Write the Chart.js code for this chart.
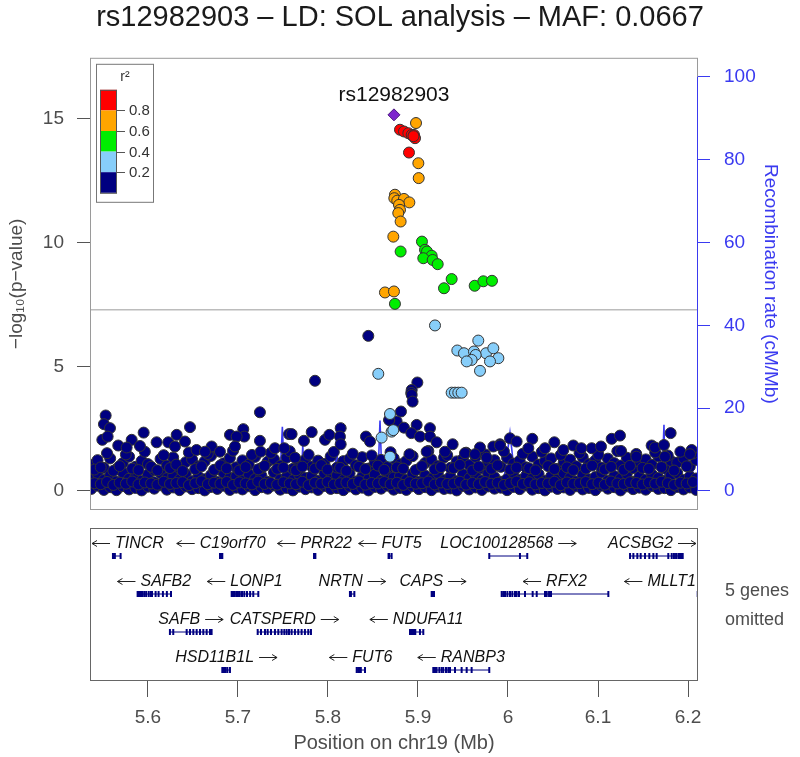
<!DOCTYPE html>
<html>
<head>
<meta charset="utf-8">
<script src="https://cdn.jsdelivr.net/npm/chart.js@4"></script>
<style>
  body { margin: 0; background: #fff; }
  #wrap { position: relative; width: 800px; height: 757px; }
  #wrap canvas { position: absolute; left: 0; top: 0; }
</style>
</head>
<body>
<div id="wrap">
  <canvas id="assoc" width="800" height="757"></canvas>
  <canvas id="genes" width="800" height="757"></canvas>
</div>
<script>
// region shown (Mb)
const xMin = 5.5356, xMax = 6.2111;
const xTicks = [5.6, 5.7, 5.8, 5.9, 6.0, 6.1, 6.2];
const pTicks = [0, 5, 10, 15];
const recTicks = [0, 20, 40, 60, 80, 100];
const gwsLine = 7.3;

// index SNP [pos, -log10 p]
const indexSnp = [5.8733, 15.16];
const indexName = 'rs12982903';

// LD classes [pos, -log10 p]
const redSnps = [[5.88,14.56],[5.8844,14.49],[5.8893,14.42],[5.893,14.35],[5.8956,14.35],[5.8967,14.22],[5.895,14.3],[5.89,13.64]];
const orangeSnps = [[5.8978,14.83],[5.9004,13.21],[5.9008,12.61],[5.8744,11.94],[5.8737,11.8],[5.877,11.7],[5.8844,11.77],
  [5.8904,11.63],[5.8789,11.53],[5.88,11.33],[5.8781,11.2],[5.8807,10.86],[5.8726,10.25],[5.8633,8.0],[5.8733,8.04]];
const greenSnps = [[5.8807,9.65],[5.9044,10.05],[5.9078,9.72],[5.91,9.65],[5.9152,9.48],[5.9059,9.38],[5.9163,9.31],
  [5.9219,9.14],[5.9374,8.54],[5.9289,8.17],[5.963,8.27],[5.9726,8.45],[5.9822,8.47],[5.8744,7.54]];
const lightSnps = [[5.9189,6.67],[5.8559,4.72],[5.967,6.06],[5.9437,5.66],[5.9511,5.55],[5.9622,5.62],[5.9756,5.55],
  [5.9837,5.75],[5.9893,5.35],[5.98,5.22],[5.9641,5.48],[5.9596,5.28],[5.9541,5.22],[5.9689,4.84],[5.9374,3.96],
  [5.9411,3.96],[5.9448,3.96],[5.9485,3.96],[5.8689,3.1],[5.8707,2.39],[5.8725,2.45],[5.8596,2.15],[5.8689,1.38]];

// r2 < 0.2: dense low band (two sets of columns) plus the scattered higher ones
const bgPos = [5.537,5.544,5.551,5.558,5.565,5.572,5.579,5.586,5.593,5.600,5.607,5.614,5.621,5.628,5.635,5.642,5.649,
  5.656,5.663,5.670,5.677,5.684,5.691,5.698,5.705,5.712,5.719,5.726,5.733,5.740,5.747,5.754,5.761,5.768,5.775,5.782,
  5.789,5.796,5.803,5.810,5.817,5.824,5.831,5.838,5.845,5.852,5.859,5.866,5.873,5.880,5.887,5.894,5.901,5.908,5.915,
  5.922,5.929,5.936,5.943,5.950,5.957,5.964,5.971,5.978,5.985,5.992,5.999,6.006,6.013,6.020,6.027,6.034,6.041,6.048,
  6.055,6.062,6.069,6.076,6.083,6.090,6.097,6.104,6.111,6.118,6.125,6.132,6.139,6.146,6.153,6.160,6.167,6.174,6.181,
  6.188,6.195,6.202,6.209];
const bgLow = [0.08,0.21,0.04,0.15,0.03,0.19,0.06,0.12,0.02,0.17,0.09,0.23,0.05,0.14,0.03,0.18,0.07,0.11,0.02,0.16,
  0.08,0.21,0.04,0.13,0.06,0.19,0.03,0.15,0.09,0.22,0.05,0.12,0.02,0.17,0.07,0.14,0.04,0.2,0.08,0.11,
  0.03,0.18,0.06,0.13,0.02,0.16,0.09,0.21,0.05,0.12,0.04,0.19,0.07,0.15,0.03,0.17,0.08,0.1,0.02,0.2,
  0.06,0.14,0.04,0.18,0.09,0.13,0.03,0.16,0.07,0.22,0.05,0.11,0.02,0.17,0.08,0.14,0.04,0.19,0.06,0.12,
  0.03,0.21,0.09,0.15,0.02,0.18,0.07,0.13,0.05,0.2,0.08,0.11,0.03,0.16,0.06,0.14,0.04];
const bgMid = [0.52,0.71,0.44,0.63,0.38,0.74,0.49,0.57,0.41,0.66,0.35,0.72,0.51,0.61,0.45,0.69,0.39,0.58,0.47,0.64,
  0.36,0.73,0.53,0.59,0.42,0.68,0.48,0.62,0.37,0.75,0.46,0.56,0.43,0.67,0.52,0.6,0.4,0.7,0.5,0.63,
  0.44,0.71,0.38,0.57,0.47,0.66,0.41,0.74,0.54,0.6,0.45,0.69,0.36,0.62,0.49,0.72,0.43,0.58,0.39,0.67,
  0.51,0.64,0.42,0.7,0.55,0.37,0.48,0.73,0.44,0.61,0.5,0.68,0.4,0.59,0.46,0.71,0.53,0.38,0.65,0.47,
  0.56,0.74,0.41,0.6,0.49,0.69,0.36,0.57,0.45,0.66,0.52,0.4,0.63,0.72,0.44,0.58,0.5];
const bgTop = [1.05,1.24,0.93,1.31,0.88,1.12,1.38,0.97,1.21,1.08,0.84,1.29,1.02,1.35,0.91,1.16,1.27,0.99,1.19,1.41,
  0.87,1.11,1.33,0.95,1.23,1.06,1.37,0.92,1.18,1.28,1.01,1.34,0.89,1.14,1.26,0.98,1.22,1.09,1.39,0.94,
  1.2,1.3,1.03,1.36,0.9,1.15,1.25,0.96,1.32,1.07,1.21,1.4,0.88,1.13,1.27,1.0,1.35,0.93,1.19,1.29,
  1.04,1.37,0.91,1.16,1.24,0.97,1.33,1.1,1.22,0.95,1.38,1.06,1.2,1.31,0.89,1.17,1.26,0.99,1.36,1.08,
  1.23,0.94,1.3,1.12,1.02,1.34,0.92,1.18,1.27,1.05,1.39,0.9,1.21,1.14,1.32,0.98,1.25];
const bgPos2 = [5.5405,5.5475,5.5545,5.5615,5.5685,5.5755,5.5825,5.5895,5.5965,5.6035,5.6105,5.6175,5.6245,5.6315,
  5.6385,5.6455,5.6525,5.6595,5.6665,5.6735,5.6805,5.6875,5.6945,5.7015,5.7085,5.7155,5.7225,5.7295,5.7365,5.7435,
  5.7505,5.7575,5.7645,5.7715,5.7785,5.7855,5.7925,5.7995,5.8065,5.8135,5.8205,5.8275,5.8345,5.8415,5.8485,5.8555,
  5.8625,5.8695,5.8765,5.8835,5.8905,5.8975,5.9045,5.9115,5.9185,5.9255,5.9325,5.9395,5.9465,5.9535,5.9605,5.9675,
  5.9745,5.9815,5.9885,5.9955,6.0025,6.0095,6.0165,6.0235,6.0305,6.0375,6.0445,6.0515,6.0585,6.0655,6.0725,6.0795,
  6.0865,6.0935,6.1005,6.1075,6.1145,6.1215,6.1285,6.1355,6.1425,6.1495,6.1565,6.1635,6.1705,6.1775,6.1845,6.1915,
  6.1985,6.2055];
const bgLow2 = [0.31,0.27,0.36,0.24,0.33,0.29,0.38,0.26,0.34,0.3,0.25,0.37,0.28,0.32,0.35,0.23,0.31,0.39,0.27,0.33,
  0.29,0.36,0.24,0.34,0.3,0.26,0.38,0.28,0.32,0.25,0.35,0.3,0.27,0.37,0.23,0.33,0.29,0.36,0.26,0.31,
  0.34,0.28,0.39,0.25,0.32,0.3,0.36,0.27,0.33,0.24,0.35,0.29,0.31,0.38,0.26,0.34,0.28,0.3,0.37,0.25,
  0.32,0.27,0.36,0.29,0.33,0.24,0.31,0.38,0.28,0.35,0.26,0.32,0.3,0.37,0.23,0.34,0.29,0.31,0.36,0.27,
  0.33,0.25,0.38,0.3,0.28,0.35,0.32,0.26,0.34,0.29,0.37,0.31,0.24,0.33,0.3,0.36];
const bgHigh2 = [0.86,0.95,1.52,0.81,1.0,1.47,0.9,0.84,1.58,0.97,0.83,1.44,0.92,1.06,0.8,1.55,0.88,0.99,1.49,0.85,
  1.03,0.91,1.62,0.82,0.96,1.45,0.87,1.01,1.53,0.89,0.94,1.6,0.83,0.98,1.46,0.9,1.04,0.86,1.57,0.93,
  0.81,1.5,0.97,0.88,1.43,1.02,0.85,1.56,0.95,0.9,1.48,0.84,1.0,1.61,0.87,0.96,1.44,0.92,1.05,1.54,
  0.82,0.98,1.47,0.89,1.03,1.59,0.86,0.94,1.5,0.91,0.83,1.57,1.0,0.88,1.45,0.95,0.84,1.52,0.9,1.02,
  1.46,0.87,0.97,1.6,0.85,1.01,1.49,0.93,0.89,1.55,0.96,1.43,0.82,1.58,0.99,1.51];
const navySnps = [[5.8448,6.25],[5.7856,4.44],[5.8993,4.37],[5.893,4.07],[5.8925,3.95],[5.893,3.87],[5.894,3.6],
  [5.8811,3.2],[5.8763,2.8],[5.8985,2.66],[5.8681,2.86],[5.553,3.04],[5.5511,2.69],[5.5578,2.53],[5.5493,2.06],
  [5.5552,2.19],[5.5952,2.35],[5.5819,2.06],[5.567,1.83],[5.5763,1.75],[5.5911,1.81],[5.6096,1.96],[5.6226,1.96],
  [5.6319,2.26],[5.6411,1.99],[5.63,1.79],[5.6467,2.57],[5.6707,1.79],[5.68,1.58],[5.6911,2.26],[5.7059,2.49],
  [5.707,2.19],[5.6985,2.19],[5.6967,1.79],[5.7244,3.17],[5.7244,2.02],[5.7252,1.58],[5.7411,1.72],[5.7515,1.72],
  [5.7567,2.29],[5.654,1.65],[5.6633,1.58],[5.7596,2.29],[5.7733,2.02],[5.7819,2.37],[5.7633,1.34],[5.7967,2.06],
  [5.8015,2.26],[5.8141,2.53],[5.8133,2.19],[5.8141,1.88],[5.8422,2.19],[5.8467,1.99],[5.868,2.86],[5.8844,2.55],
  [5.9133,2.53],[5.8926,2.33],[5.9022,2.19],[5.9133,2.19],[5.9207,1.96],[5.9385,1.88],[5.9689,1.75],[5.9837,1.79],
  [5.9096,1.58],[5.9522,1.52],[5.9633,1.48],[5.93,1.58],[5.9763,1.34],[5.9911,1.88],[6.0022,2.12],[5.9911,1.83],
  [6.0096,1.99],[6.027,2.1],[6.0515,1.96],[6.0615,1.65],[6.0726,1.83],[6.093,1.72],[6.1033,1.79],[6.1152,2.1],
  [6.1244,2.23],[6.1256,1.61],[6.1596,1.83],[6.1633,1.75],[6.1733,1.85],[6.1807,2.33],[6.1744,1.38],[6.2041,1.65],
  [6.2022,1.48],[6.0226,1.72],[6.0411,1.72],[6.0815,1.72],[6.1426,1.38]];

// recombination rate [pos, cM/Mb]
const recomb = [[5.536,1.2],[5.55,0.8],[5.57,1.5],[5.6,0.6],[5.63,1.1],[5.66,0.9],[5.69,1.8],[5.72,0.7],[5.745,1.0],
  [5.748,9],[5.7493,15.5],[5.7505,9],[5.752,2.5],[5.77,1.2],[5.772,11],[5.774,1.5],[5.79,0.9],[5.808,1],[5.8095,15],
  [5.811,1.2],[5.83,0.8],[5.85,1.3],[5.856,6],[5.8578,17],[5.8595,6],[5.862,1.5],[5.88,0.9],[5.91,1.2],[5.94,0.8],
  [5.97,1.4],[5.995,2],[6.0022,14],[6.008,2.5],[6.03,1.1],[6.06,0.7],[6.09,1.3],[6.12,0.9],[6.15,1.2],[6.171,2],
  [6.1733,16],[6.1745,2],[6.19,1.1],[6.2,3],[6.203,11],[6.206,3],[6.211,1.5]];

// genes: row 1 is the top row
const genes = [
  {name:'TINCR', row:1, strand:'-', start:5.5611, end:5.5696, exons:[5.5611,5.5618,5.5625,5.5632,5.5696]},
  {name:'C19orf70', row:1, strand:'-', start:5.680, end:5.6826, exons:[5.680,5.6809,5.6818,5.6826]},
  {name:'PRR22', row:1, strand:'-', start:5.7845, end:5.786, exons:[5.7845,5.7852,5.786]},
  {name:'FUT5', row:1, strand:'-', start:5.8673, end:5.8707, exons:[5.8673,5.868,5.8707]},
  {name:'LOC100128568', row:1, strand:'+', start:5.9792, end:6.0214, exons:[5.9792,6.0133,6.0214]},
  {name:'ACSBG2', row:1, strand:'+', start:6.1356, end:6.1941, exons:[6.1356,6.1393,6.1437,6.1474,6.1522,6.157,6.1615,
    6.1652,6.1781,6.1819,6.1844,6.1867,6.1892,6.1911,6.193,6.1941]},
  {name:'SAFB2', row:2, strand:'-', start:5.5885, end:5.6256, exons:[5.5885,5.5895,5.5905,5.5915,5.5928,5.594,5.596,
    5.598,5.6008,5.603,5.6045,5.6085,5.6118,5.6166,5.621,5.6256]},
  {name:'LONP1', row:2, strand:'-', start:5.693, end:5.7226, exons:[5.693,5.6945,5.696,5.698,5.70,5.702,5.7045,5.707,
    5.71,5.7135,5.717,5.7226]},
  {name:'NRTN', row:2, strand:'+', start:5.8244, end:5.8293, exons:[5.8244,5.8255,5.8293]},
  {name:'CAPS', row:2, strand:'+', start:5.9152, end:5.9178, exons:[5.9152,5.916,5.917,5.9178]},
  {name:'RFX2', row:2, strand:'-', start:5.993, end:6.1115, exons:[5.993,5.9948,5.9967,5.9993,6.0022,6.0048,6.0078,
    6.0096,6.0122,6.0189,6.0274,6.0319,6.0411,6.043,6.0456,6.0478,6.1115]},
  {name:'MLLT1', row:2, strand:'-', start:6.2108, end:6.26, exons:[6.2108,6.2112]},
  {name:'SAFB', row:3, strand:'+', start:5.6244, end:5.6707, exons:[5.6244,5.6281,5.643,5.6467,5.6504,5.6541,5.6578,
    5.6615,5.6652,5.6689,5.6707]},
  {name:'CATSPERD', row:3, strand:'+', start:5.7219, end:5.7811, exons:[5.7219,5.7256,5.73,5.733,5.7367,5.7411,5.7448,
    5.7485,5.7515,5.7541,5.7567,5.7596,5.7633,5.767,5.7707,5.7744,5.7781,5.7811]},
  {name:'NDUFA11', row:3, strand:'-', start:5.8911, end:5.9059, exons:[5.8911,5.8926,5.894,5.8956,5.897,5.9022,5.9059]},
  {name:'HSD11B1L', row:4, strand:'+', start:5.6826, end:5.6911, exons:[5.6826,5.6845,5.6863,5.6882,5.6911]},
  {name:'FUT6', row:4, strand:'-', start:5.8319, end:5.8411, exons:[5.8319,5.8335,5.835,5.8365,5.8411]},
  {name:'RANBP3', row:4, strand:'-', start:5.917, end:5.9792, exons:[5.917,5.9189,5.9207,5.9237,5.9263,5.9281,5.9311,
    5.9337,5.9356,5.9411,5.9485,5.9541,5.9596,5.9792]}
];
const omittedNote = ['5 genes', 'omitted'];

const ldColors = ['#000080', '#87CEFA', '#00EE00', '#FFA500', '#FF0000'];
const ldLabels = ['0.2', '0.4', '0.6', '0.8'];
const FONT = '"Liberation Sans", Arial, sans-serif';
const recBlue = '#3a3af0';
Chart.defaults.font.family = FONT;

const toXY = arr => arr.map(d => ({x: d[0], y: d[1]}));

const bandPoints = [];
bgPos.forEach((x, i) => {
  bandPoints.push({x: x, y: bgLow[i]}, {x: x, y: bgMid[i]}, {x: x, y: bgTop[i]});
});
bgPos2.forEach((x, i) => {
  bandPoints.push({x: x, y: bgLow2[i]}, {x: x, y: bgHigh2[i]});
});

function snpSet(data, color, order) {
  return { type: 'scatter', data: data, order: order, yAxisID: 'y',
    backgroundColor: color, borderColor: '#333', borderWidth: 1, pointRadius: 5.5, pointHoverRadius: 5.5 };
}

// frame, legend and labels on the association panel
const assocDecor = {
  id: 'assocDecor',
  afterDatasetsDraw(chart) {
    const {ctx, chartArea: a, scales} = chart;
    ctx.save();
    ctx.strokeStyle = '#9a9a9a';
    ctx.lineWidth = 1;
    ctx.strokeRect(a.left + 0.5, a.top + 0.5, a.right - a.left - 1, a.bottom - a.top - 1);
    ctx.strokeStyle = recBlue;
    ctx.beginPath();
    ctx.moveTo(a.right - 0.5, scales.yR.getPixelForValue(0));
    ctx.lineTo(a.right - 0.5, scales.yR.getPixelForValue(100));
    ctx.stroke();

    // r2 legend
    const lx = a.left + 6, ly = a.top + 6;
    ctx.fillStyle = '#fff';
    ctx.fillRect(lx, ly, 57, 138);
    ctx.strokeStyle = '#777';
    ctx.strokeRect(lx + 0.5, ly + 0.5, 57, 138);
    ctx.fillStyle = '#333';
    ctx.font = '14px ' + FONT;
    ctx.textAlign = 'center';
    ctx.textBaseline = 'middle';
    ctx.fillText('r²', lx + 29, ly + 13);
    const top = ly + 26, h = 20.6;
    for (let i = 0; i < 5; i++) {
      ctx.fillStyle = ldColors[4 - i];
      ctx.fillRect(lx + 4, top + i * h, 17, h);
    }
    ctx.strokeStyle = '#555';
    ctx.strokeRect(lx + 4.5, top + 0.5, 16, 5 * h);
    ctx.font = '15px ' + FONT;
    ctx.textAlign = 'left';
    ctx.fillStyle = '#333';
    for (let i = 0; i < 4; i++) {
      const yy = Math.round(top + (i + 1) * h) + 0.5;
      ctx.beginPath();
      ctx.moveTo(lx + 21, yy);
      ctx.lineTo(lx + 29, yy);
      ctx.stroke();
      ctx.fillText(ldLabels[3 - i], lx + 33, yy);
    }

    // index SNP name
    ctx.font = '21px ' + FONT;
    ctx.textAlign = 'center';
    ctx.textBaseline = 'alphabetic';
    ctx.fillStyle = '#111';
    ctx.fillText(indexName, scales.x.getPixelForValue(indexSnp[0]), scales.y.getPixelForValue(indexSnp[1]) - 14);
    ctx.restore();
  }
};

new Chart(document.getElementById('assoc'), {
  type: 'scatter',
  data: {
    datasets: [
      { type: 'line', data: toXY(recomb), yAxisID: 'yR', order: 10, borderColor: recBlue, borderWidth: 1.6,
        pointRadius: 0, fill: false, tension: 0 },
      { type: 'line', data: [{x: xMin, y: gwsLine}, {x: xMax, y: gwsLine}], yAxisID: 'y', order: 9,
        borderColor: '#bcbcbc', borderWidth: 1.5, pointRadius: 0 },
      snpSet(bandPoints.concat(toXY(navySnps)), ldColors[0], 5),
      snpSet(toXY(lightSnps), ldColors[1], 4),
      snpSet(toXY(greenSnps), ldColors[2], 3),
      snpSet(toXY(orangeSnps), ldColors[3], 2),
      snpSet(toXY(redSnps), ldColors[4], 1),
      { type: 'scatter', data: toXY([indexSnp]), yAxisID: 'y', order: 0, pointStyle: 'rectRot',
        backgroundColor: '#7D26CD', borderColor: '#4b1a80', borderWidth: 1, pointRadius: 6 }
    ]
  },
  options: {
    responsive: false,
    animation: false,
    layout: { padding: { left: 0, right: 0, top: 0, bottom: 247 } },
    plugins: {
      legend: { display: false },
      tooltip: { enabled: false },
      title: { display: true, text: 'rs12982903 – LD: SOL analysis – MAF: 0.0667', color: '#1a1a1a',
        font: { size: 29, weight: 'normal' }, padding: { top: 1, bottom: 22 } }
    },
    scales: {
      x: { type: 'linear', min: xMin, max: xMax, display: false },
      y: {
        position: 'left', min: -0.77, max: 17.46,
        afterBuildTicks: s => { s.ticks = pTicks.map(v => ({value: v})); },
        afterFit: s => { s.width = 90; },
        grid: { drawOnChartArea: false, tickLength: 13, color: '#555' },
        border: { display: false },
        ticks: { color: '#4d4d4d', font: { size: 19 }, padding: 13 },
        title: { display: true, text: '−log₁₀(p−value)', color: '#4d4d4d', font: { size: 19 },
          padding: { top: 5, bottom: 0 } }
      },
      yR: {
        position: 'right', min: -4.6, max: 104.6,
        afterBuildTicks: s => { s.ticks = recTicks.map(v => ({value: v})); },
        afterFit: s => { s.width = 102; },
        grid: { drawOnChartArea: false, tickLength: 12, color: recBlue },
        border: { display: false },
        ticks: { color: recBlue, font: { size: 19 }, padding: 14 },
        title: { display: true, text: 'Recombination rate (cM/Mb)', color: recBlue, font: { size: 19 },
          padding: { top: 18, bottom: 0 } }
      }
    }
  },
  plugins: [assocDecor]
});

// gene names with strand arrows, frame and omitted note
const geneDecor = {
  id: 'geneDecor',
  afterDatasetsDraw(chart) {
    const {ctx, chartArea: a, scales} = chart;
    ctx.save();
    ctx.strokeStyle = '#666';
    ctx.lineWidth = 1;
    ctx.strokeRect(a.left + 0.5, a.top + 0.5, a.right - a.left - 1, a.bottom - a.top - 1);
    ctx.font = 'italic 16px ' + FONT;
    ctx.fillStyle = '#111';
    ctx.strokeStyle = '#222';
    ctx.textBaseline = 'middle';
    ctx.textAlign = 'left';
    const arrow = 18, gap = 5;
    genes.forEach(g => {
      const tw = ctx.measureText(g.name).width;
      const w = tw + arrow + gap;
      let left = scales.x.getPixelForValue((g.start + g.end) / 2) - w / 2;
      left = Math.max(a.left + 2, Math.min(left, a.right - 2 - w));
      const y = Math.round(scales.y.getPixelForValue(g.row) - 13) + 0.5;
      let tx, a0, a1;
      if (g.strand === '+') { tx = left; a0 = left + tw + gap; a1 = a0 + arrow; }
      else { a1 = left; a0 = left + arrow; tx = left + arrow + gap; }
      ctx.fillText(g.name, tx, y);
      const d = a1 > a0 ? -1 : 1;
      ctx.beginPath();
      ctx.moveTo(a0, y);
      ctx.lineTo(a1, y);
      ctx.moveTo(a1 + d * 5, y - 3);
      ctx.lineTo(a1, y);
      ctx.lineTo(a1 + d * 5, y + 3);
      ctx.stroke();
    });
    ctx.font = '18px ' + FONT;
    ctx.fillStyle = '#4d4d4d';
    ctx.fillText(omittedNote[0], a.right + 27, 591);
    ctx.fillText(omittedNote[1], a.right + 27, 620);
    ctx.restore();
  }
};

const geneLines = [];
const exonPts = [];
genes.forEach(g => {
  geneLines.push({x: g.start, y: g.row}, {x: g.end, y: g.row}, {x: g.end, y: null});
  g.exons.forEach(e => exonPts.push({x: e, y: g.row}));
});

new Chart(document.getElementById('genes'), {
  type: 'scatter',
  data: {
    datasets: [
      { type: 'line', data: geneLines, borderColor: '#000080', borderWidth: 1, pointRadius: 0, spanGaps: false },
      { type: 'scatter', data: exonPts, pointStyle: 'line', rotation: 90, pointRadius: 3,
        borderColor: '#000080', borderWidth: 2, backgroundColor: '#000080' }
    ]
  },
  options: {
    responsive: false,
    animation: false,
    layout: { padding: { left: 90, right: 102, top: 528, bottom: 2 } },
    plugins: { legend: { display: false }, tooltip: { enabled: false } },
    scales: {
      x: {
        type: 'linear', min: xMin, max: xMax,
        afterBuildTicks: s => { s.ticks = xTicks.map(v => ({value: v})); },
        afterFit: s => { s.height = 74; },
        grid: { drawOnChartArea: false, tickLength: 16, color: '#555' },
        border: { display: false },
        ticks: { color: '#4d4d4d', font: { size: 19 }, padding: 9, maxRotation: 0,
          callback: v => String(+v.toFixed(1)) },
        title: { display: true, text: 'Position on chr19 (Mb)', color: '#4d4d4d', font: { size: 20 },
          padding: { top: 0, bottom: 0 } }
      },
      y: { min: 0.263, max: 4.289, reverse: true, display: false }
    }
  },
  plugins: [geneDecor]
});
</script>
</body>
</html>
